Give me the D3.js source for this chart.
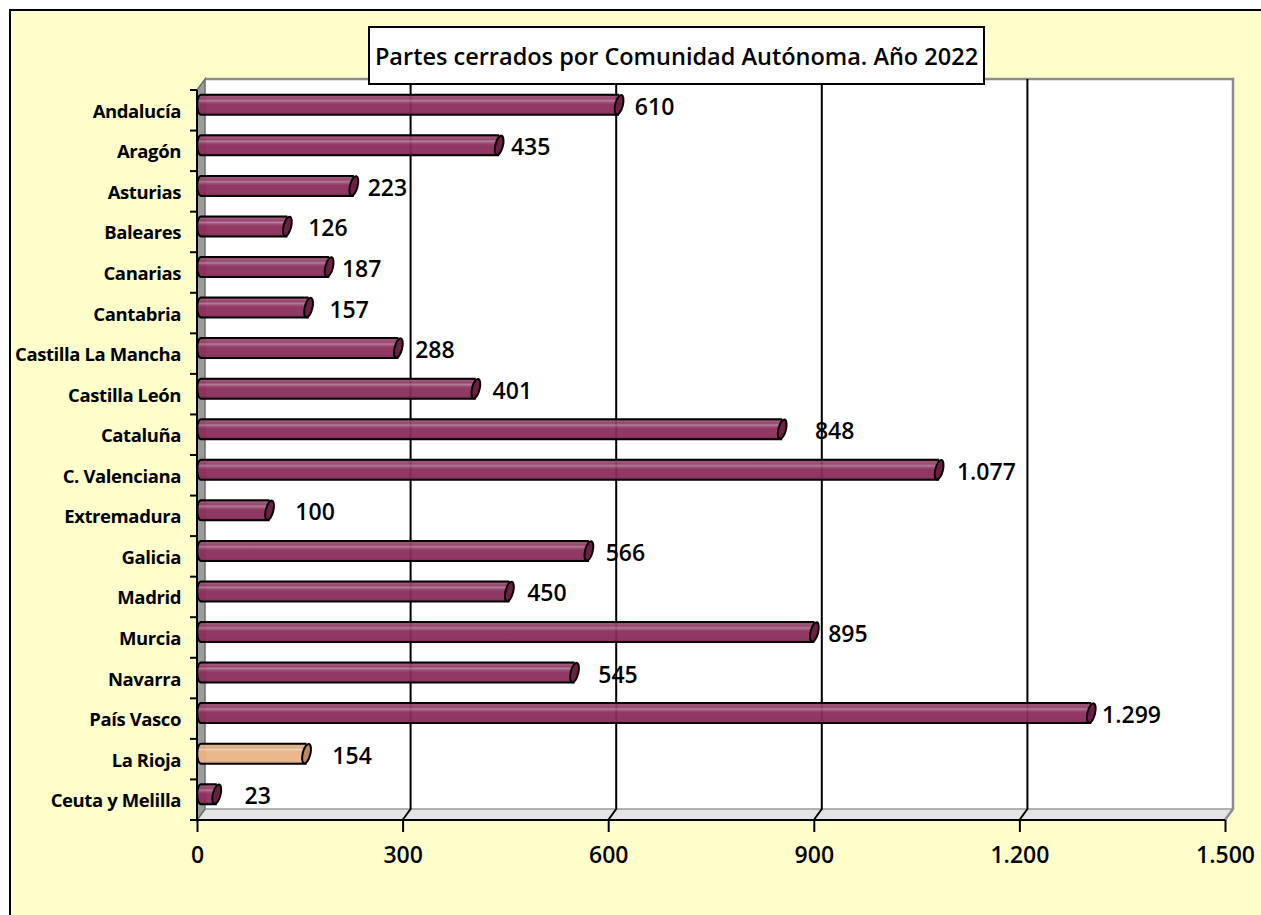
<!DOCTYPE html>
<html>
<head>
<meta charset="utf-8">
<script src="https://cdn.jsdelivr.net/npm/d3@7"></script>
<style>
  html, body { margin: 0; padding: 0; background: #ffffff; }
  svg { display: block; }
</style>
</head>
<body>
<svg id="chart" width="1261" height="915"></svg>
<script>
// ---- data ----
const categories = ["Andalucía","Aragón","Asturias","Baleares","Canarias","Cantabria","Castilla La Mancha","Castilla León","Cataluña","C. Valenciana","Extremadura","Galicia","Madrid","Murcia","Navarra","País Vasco","La Rioja","Ceuta y Melilla"];
const values = [610,435,223,126,187,157,288,401,848,1077,100,566,450,895,545,1299,154,23];
const highlighted = ["La Rioja"];
const xTicks = [0,300,600,900,1200,1500];
const title = "Partes cerrados por Comunidad Autónoma. Año 2022";
// label nudges (px right of the bar end)
const labelGap = [12,8,10,17,9,17,13,13,29,14,22,13,14,10,20,7,22,24];

// ---- layout ----
const svg = d3.select("#chart");
const W = 1261, H = 915;
const DX = 8, DY = -11;            // 3D depth offset (front -> back)
const x = d3.scaleLinear().domain([0,1500]).range([197,1225]);
const y = d3.scaleBand().domain(categories).range([90,820]);
const bw = y.bandwidth();
const fmt = d3.formatLocale({decimal:",", thousands:".", grouping:[3], currency:["","€"]}).format(",d");
const F = "'Open Sans', 'DejaVu Sans', sans-serif";

// background with border
svg.append("rect").attr("width",W).attr("height",H).attr("fill","#ffffff");
svg.append("rect").attr("x",10).attr("y",10).attr("width",W+20).attr("height",H+20)
  .attr("fill","#FFFFCC").attr("stroke","#000").attr("stroke-width",2);

const defs = svg.append("defs");
function cylGrad(id, stops){
  const g = defs.append("linearGradient").attr("id",id).attr("x1",0).attr("y1",0).attr("x2",0).attr("y2",1);
  stops.forEach(s => g.append("stop").attr("offset",s[0]).attr("stop-color",s[1]));
}
cylGrad("gPurple", [[0,"#7d2851"],[0.1,"#9c4f76"],[0.2,"#8e3a64"],[0.3,"#b07592"],[0.38,"#94456c"],[0.48,"#8a2d5b"],[0.85,"#8a2b5a"],[1,"#74214b"]]);
cylGrad("gTan", [[0,"#c4946b"],[0.1,"#e0b692"],[0.2,"#d8a77f"],[0.3,"#f0cdb0"],[0.38,"#e3b48b"],[0.48,"#e9b586"],[0.85,"#e8b384"],[1,"#cf9c70"]]);

const y0 = 90, y1 = 820;           // front axis extent
const bx0 = x(0)+DX, bx1 = x(1500)+DX, by0 = y0+DY, by1 = y1+DY;

// back wall
svg.append("rect").attr("x",bx0).attr("y",by0).attr("width",bx1-bx0).attr("height",by1-by0).attr("fill","#ffffff");
svg.append("path").attr("d",`M${bx0},${by0}H${bx1}V${by1}`).attr("fill","none").attr("stroke","#8c8c8c").attr("stroke-width",2.5);

// floor
svg.append("path")
  .attr("d",`M${x(0)},${y1}L${bx0},${by1}H${bx1}L${x(1500)},${y1}Z`)
  .attr("fill","#e4e4e4").attr("stroke","#9a9a9a").attr("stroke-width",1.5);

// gridlines (back wall + floor slant)
svg.append("g").selectAll("path").data(xTicks.filter(d=>d>0 && d<1500)).join("path")
  .attr("d",d=>`M${x(d)+DX},${by0}V${by1}L${x(d)},${y1}`)
  .attr("fill","none").attr("stroke","#000").attr("stroke-width",2);
// right edge slant
svg.append("path").attr("d",`M${bx1},${by1}L${x(1500)},${y1}`).attr("stroke","#8c8c8c").attr("stroke-width",2.5).attr("fill","none");

// left wall
svg.append("path")
  .attr("d",`M${x(0)},${y0}L${bx0},${by0}V${by1}L${x(0)},${y1}Z`)
  .attr("fill","#9c9c9c").attr("stroke","#6e6e6e").attr("stroke-width",1.5);

// bars (cylinders at mid depth)
const rows = categories.map((c,i)=>({c, v:values[i], gap:labelGap[i]}));
const bars = svg.append("g").selectAll("g").data(rows).join("g");
const rx = 3.8, ry = 10;
bars.each(function(d){
  const g = d3.select(this);
  const cy = y(d.c) + bw/2 + DY/2;
  const xs = x(0) + DX/2;
  const xe = x(d.v) + DX/2;
  const fill = highlighted.includes(d.c) ? "url(#gTan)" : "url(#gPurple)";
  const capFill = highlighted.includes(d.c) ? "#b98a60" : "#6e1f46";
  g.append("path")
    .attr("d",`M${xe},${cy-ry}H${xs}A${rx},${ry} 0 0 0 ${xs},${cy+ry}H${xe}`)
    .attr("fill",fill).attr("fill-opacity",0.94).attr("stroke","#000").attr("stroke-width",2);
  g.append("ellipse").attr("cx",xe).attr("cy",cy).attr("rx",rx).attr("ry",ry)
    .attr("transform",`rotate(14,${xe},${cy})`)
    .attr("fill",capFill).attr("stroke","#000").attr("stroke-width",2);
  g.append("text").attr("x",xe+rx+d.gap).attr("y",cy+2).attr("dy","0.35em")
    .attr("font-family",F).attr("font-size",23).attr("font-weight",600).attr("fill","#000")
    .text(fmt(d.v));
});

// front axes
svg.append("path").attr("d",`M${x(0)},${y0}V${y1}`).attr("stroke","#000").attr("stroke-width",2);
svg.append("path").attr("d",`M${x(0)-7},${y1}H${x(1500)}`).attr("stroke","#000").attr("stroke-width",2);

// y ticks at band boundaries
const yBounds = categories.map(c=>y(c)).concat([y1]);
svg.append("g").selectAll("line").data(yBounds).join("line")
  .attr("x1",x(0)-7).attr("x2",x(0)).attr("y1",d=>d).attr("y2",d=>d)
  .attr("stroke","#000").attr("stroke-width",2);

// y labels
svg.append("g").selectAll("text").data(categories).join("text")
  .attr("x",181).attr("y",c=>y(c)+bw/2+1).attr("dy","0.35em")
  .attr("text-anchor","end").attr("font-family",F).attr("font-size",18.5).attr("font-weight",700)
  .attr("letter-spacing",-0.4).attr("fill","#000")
  .text(c=>c);

// x axis ticks + labels
const xAxis = d3.axisBottom(x).tickValues(xTicks).tickSize(12).tickPadding(15).tickFormat(fmt);
const gx = svg.append("g").attr("transform",`translate(0,${y1})`).call(xAxis);
gx.select(".domain").remove();
gx.selectAll(".tick line").attr("stroke","#000").attr("stroke-width",2);
gx.selectAll(".tick text").attr("font-family",F).attr("font-size",23).attr("font-weight",600).attr("fill","#000");

// title box
const tb = svg.append("g");
tb.append("rect").attr("x",369).attr("y",27).attr("width",615).attr("height",57)
  .attr("fill","#fff").attr("stroke","#000").attr("stroke-width",2);
tb.append("text").attr("x",369+615/2).attr("y",57).attr("dy","0.35em").attr("text-anchor","middle")
  .attr("font-family",F).attr("font-size",23.5).attr("font-weight",600).attr("fill","#000")
  .text(title);
</script>
</body>
</html>
